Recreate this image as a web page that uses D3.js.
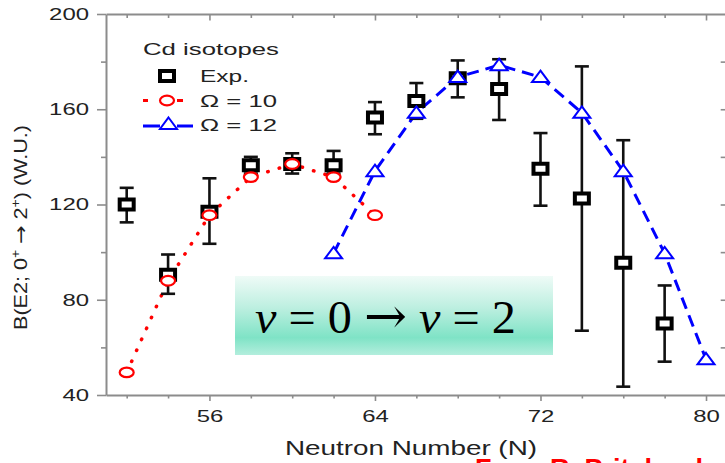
<!DOCTYPE html>
<html>
<head>
<meta charset="utf-8">
<script src="https://cdn.jsdelivr.net/npm/d3@7"></script>
<style>
  html, body { margin: 0; padding: 0; background: #fff; overflow: hidden; }
  svg { display: block; }
</style>
</head>
<body>
<svg id="chart" width="725" height="463"></svg>
<script>
// Cd isotopes: B(E2; 0+ -> 2+) in W.U. versus neutron number
const neutronExp   = [52, 54, 56, 58, 60, 62, 64, 66, 68, 70, 72, 74, 76, 78];
const expBE2       = [120, 90.5, 117, 136.5, 137, 136.5, 156.5, 163.5, 173, 168.5, 135, 122.5, 95.5, 70];
const expErrUp     = [7, 8.5, 14, 3.5, 4.5, 6, 6.5, 7.5, 7.5, 12.5, 15, 55.5, 51.5, 16];
const expErrDown   = [7.5, 8, 13.5, 3.5, 4, 3.5, 7, 7.5, 8, 13, 15.5, 55.5, 52, 16];

const neutronOmega10 = [52, 54, 56, 58, 60, 62, 64];
const omega10BE2     = [49.5, 88, 115.5, 131.5, 137, 131.5, 115.5];

const neutronOmega12 = [62, 64, 66, 68, 70, 72, 74, 76, 78, 80];
const omega12BE2     = [99.5, 134, 158.5, 173.5, 178.5, 173.5, 158.5, 134, 99.5, 55];

const xTickLabels = [56, 64, 72, 80];
const xMinorTicks = [52, 54, 58, 60, 62, 66, 68, 70, 74, 76, 78];
const yTickLabels = [40, 80, 120, 160, 200];
const yMinorTicks = [60, 100, 140, 180];
const legendTitle = "Cd isotopes";
const legendLabels = ["Exp.", "Ω = 10", "Ω = 12"];

const svg = d3.select("#chart");
const FONT = "'Liberation Sans', Arial, sans-serif";
const AXIS_COLOR = "#8c8c8c";
const DIGIT_W = 13.3; // wide digits of the axis labels

const x = d3.scaleLinear().domain([51, 81]).range([106, 726.7]);
const y = d3.scaleLinear().domain([40, 200]).range([395, 14]);

function styleAxis(g, keepDomain) {
  g.select(".domain").attr("stroke", keepDomain ? AXIS_COLOR : "none").attr("stroke-width", 2);
  g.selectAll(".tick line").attr("stroke", AXIS_COLOR).attr("stroke-width", 1.6);
  g.selectAll(".tick text")
    .attr("fill", "#222")
    .style("font-family", FONT)
    .style("font-size", "17px")
    .attr("textLength", function() { return this.textContent.length * DIGIT_W; })
    .attr("lengthAdjust", "spacingAndGlyphs");
}

// Frame: bottom / left with labels, top / right with inward ticks
const axes = svg.append("g");
axes.append("g").attr("transform", `translate(0,${y(40)})`)
  .call(d3.axisBottom(x).tickValues(xTickLabels).tickSize(6).tickSizeOuter(0))
  .call(g => styleAxis(g, true))
  .call(g => g.selectAll(".tick text").attr("y", 15));
axes.append("g").attr("transform", `translate(0,${y(40)})`)
  .call(d3.axisBottom(x).tickValues(xMinorTicks).tickSize(3.5).tickFormat(""))
  .call(g => styleAxis(g, false));
axes.append("g").attr("transform", `translate(0,${y(200)})`)
  .call(d3.axisTop(x).tickValues(xTickLabels).tickSize(-6.5).tickSizeOuter(0).tickFormat(""))
  .call(g => styleAxis(g, true));
axes.append("g").attr("transform", `translate(0,${y(200)})`)
  .call(d3.axisTop(x).tickValues(xMinorTicks).tickSize(-4).tickFormat(""))
  .call(g => styleAxis(g, false));
axes.append("g").attr("transform", `translate(${x(51)},0)`)
  .call(d3.axisLeft(y).tickValues(yTickLabels).tickSize(9).tickPadding(8).tickSizeOuter(0))
  .call(g => styleAxis(g, true));
axes.append("g").attr("transform", `translate(${x(51)},0)`)
  .call(d3.axisLeft(y).tickValues(yMinorTicks).tickSize(5).tickFormat(""))
  .call(g => styleAxis(g, false));
axes.append("g").attr("transform", `translate(${x(81)},0)`)
  .call(d3.axisRight(y).tickValues(d3.range(60, 200, 20)).tickSize(-6).tickSizeOuter(0).tickFormat(""))
  .call(g => styleAxis(g, true));

// Axis titles
svg.append("text")
  .attr("x", 285).attr("y", 455)
  .attr("textLength", 252).attr("lengthAdjust", "spacingAndGlyphs")
  .attr("fill", "#222").style("font-family", FONT).style("font-size", "19.5px")
  .text("Neutron Number (N)");

const yTitle = svg.append("text")
  .attr("transform", "translate(27,227.5) rotate(-90)")
  .attr("text-anchor", "middle")
  .attr("textLength", 205).attr("lengthAdjust", "spacingAndGlyphs")
  .attr("fill", "#222").style("font-family", FONT).style("font-size", "18.5px");
yTitle.append("tspan").text("B(E2; 0");
yTitle.append("tspan").attr("dy", -7.5).style("font-size", "12px").text("+");
yTitle.append("tspan").attr("dy", 7.5).text(" ");
yTitle.append("tspan").style("font-family", "'DejaVu Sans', sans-serif").style("font-size", "19px").text("\u2192");
yTitle.append("tspan").text(" 2");
yTitle.append("tspan").attr("dy", -7.5).style("font-size", "12px").text("+");
yTitle.append("tspan").attr("dy", 7.5).text(") (W.U.)");

// Marker shapes (the plot is wider than tall, so markers are flattened)
const squarePath = "M-7,-5H7V5H-7Z";
const trianglePath = "M0,-6.5L8.5,5L-8.5,5Z";

// Model curves
const line10 = d3.line().x((d, i) => x(neutronOmega10[i])).y(d => y(d));
const line12 = d3.line().x((d, i) => x(neutronOmega12[i])).y(d => y(d));

svg.append("path").datum(omega10BE2).attr("d", line10)
  .attr("fill", "none").attr("stroke", "#ff0000").attr("stroke-width", 3.5)
  .attr("stroke-linecap", "round").attr("stroke-dasharray", "0.5 11.5");
svg.append("path").datum(omega12BE2).attr("d", line12)
  .attr("fill", "none").attr("stroke", "#0000ff").attr("stroke-width", 3)
  .attr("stroke-dasharray", "12 7");

// Experimental points with error bars
const expG = svg.append("g");
const pts = expBE2.map((v, i) => ({ n: neutronExp[i], v, up: expErrUp[i], down: expErrDown[i] }));
const bars = expG.selectAll("g.err").data(pts).join("g").attr("class", "err")
  .attr("stroke", "#111").attr("stroke-width", 2.6);
bars.append("line")
  .attr("x1", d => x(d.n)).attr("x2", d => x(d.n))
  .attr("y1", d => y(d.v + d.up)).attr("y2", d => y(d.v - d.down));
bars.append("line")
  .attr("x1", d => x(d.n) - 7).attr("x2", d => x(d.n) + 7)
  .attr("y1", d => y(d.v + d.up)).attr("y2", d => y(d.v + d.up));
bars.append("line")
  .attr("x1", d => x(d.n) - 7).attr("x2", d => x(d.n) + 7)
  .attr("y1", d => y(d.v - d.down)).attr("y2", d => y(d.v - d.down));
expG.selectAll("path.sq").data(pts).join("path").attr("class", "sq")
  .attr("d", squarePath)
  .attr("transform", d => `translate(${x(d.n)},${y(d.v)})`)
  .attr("fill", "#fff").attr("stroke", "#000").attr("stroke-width", 4);

// Model markers (hollow, white inside)
svg.selectAll("ellipse.om10").data(omega10BE2).join("ellipse").attr("class", "om10")
  .attr("cx", (d, i) => x(neutronOmega10[i])).attr("cy", d => y(d))
  .attr("rx", 7).attr("ry", 4.8)
  .attr("fill", "#fff").attr("stroke", "#ff0000").attr("stroke-width", 2.2);
svg.selectAll("path.om12").data(omega12BE2).join("path").attr("class", "om12")
  .attr("d", trianglePath)
  .attr("transform", (d, i) => `translate(${x(neutronOmega12[i])},${y(d)})`)
  .attr("fill", "#fff").attr("stroke", "#0000ff").attr("stroke-width", 2);

// Legend
const legend = svg.append("g").style("font-family", FONT).attr("fill", "#222");
legend.append("text").attr("x", 143).attr("y", 54.5)
  .attr("textLength", 136).attr("lengthAdjust", "spacingAndGlyphs")
  .style("font-size", "17px").text(legendTitle);
legend.append("path").attr("d", squarePath).attr("transform", "translate(167,76)")
  .attr("fill", "#fff").attr("stroke", "#000").attr("stroke-width", 4);
legend.append("path").attr("d", "M143,100.5H148M177,100.5H183")
  .attr("stroke", "#ff0000").attr("stroke-width", 3);
legend.append("ellipse").attr("cx", 167).attr("cy", 100.5).attr("rx", 7).attr("ry", 4.8)
  .attr("fill", "#fff").attr("stroke", "#ff0000").attr("stroke-width", 2.2);
legend.append("path").attr("d", "M143,126H160M177,126H193")
  .attr("stroke", "#0000ff").attr("stroke-width", 3);
legend.append("path").attr("d", trianglePath).attr("transform", "translate(168.5,124)")
  .attr("fill", "#fff").attr("stroke", "#0000ff").attr("stroke-width", 2);
const legendY = [81.7, 106.5, 130.5];
const legendW = [49, 77, 77];
legend.selectAll("text.item").data(legendLabels).join("text").attr("class", "item")
  .attr("x", 200).attr("y", (d, i) => legendY[i])
  .attr("textLength", (d, i) => legendW[i]).attr("lengthAdjust", "spacingAndGlyphs")
  .style("font-size", "16.5px").text(d => d);

// Seniority annotation box
const defs = svg.append("defs");
const grad = defs.append("linearGradient").attr("id", "mint").attr("x1", 0).attr("y1", 0).attr("x2", 0).attr("y2", 1);
grad.append("stop").attr("offset", "0").attr("stop-color", "#effbf7");
grad.append("stop").attr("offset", "0.4").attr("stop-color", "#bdefe0");
grad.append("stop").attr("offset", "0.78").attr("stop-color", "#7fe3c6");
grad.append("stop").attr("offset", "1").attr("stop-color", "#b3eedd");
svg.append("rect").attr("x", 235).attr("y", 276).attr("width", 318).attr("height", 79)
  .attr("fill", "url(#mint)");
const seniority = svg.append("text").attr("x", 255).attr("y", 333)
  .attr("textLength", 261).attr("lengthAdjust", "spacingAndGlyphs")
  .attr("fill", "#000").style("font-family", "'Liberation Serif', 'Times New Roman', serif")
  .style("font-size", "47px");
seniority.append("tspan").style("font-style", "italic").text("v");
seniority.append("tspan").text(" = 0 ");
seniority.append("tspan").style("font-family", "'DejaVu Serif', serif").style("font-size", "50px").text("\u2192");
seniority.append("tspan").text(" ");
seniority.append("tspan").style("font-style", "italic").text("v");
seniority.append("tspan").text(" = 2");

// Source credit
svg.append("text").attr("x", 475).attr("y", 478)
  .attr("fill", "#ff0000").style("font-family", FONT).style("font-weight", "bold")
  .style("font-size", "27px").text("From R. Pritchard et al.");
</script>
</body>
</html>
